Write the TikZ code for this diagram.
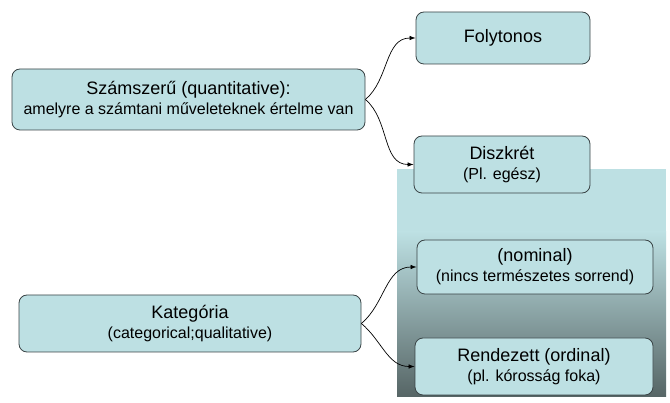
\documentclass[tikz,border=0pt]{standalone}
\usepackage{fontspec}
\setmainfont{Liberation Sans}
\usepackage{tikz}
\usetikzlibrary{arrows.meta}
\definecolor{boxfill}{HTML}{BDE0E3}
\definecolor{boxline}{HTML}{3A4446}
\definecolor{shadedark}{HTML}{566565}
\newcommand{\subline}[1]{{\fontsize{16}{19}\selectfont #1}}

\begin{document}
\begin{tikzpicture}[x=1pt, y=-1pt,
        box/.style={draw=boxline, fill=boxfill, rounded corners=8pt, line width=0.8pt,
                    align=center, inner sep=0pt, font=\fontsize{18}{20}\selectfont},
        link/.style={-{Latex[length=6pt,width=4.5pt]}, line width=0.7pt}]
    \useasboundingbox (0,0) rectangle (670,403);

    %shaded background
    \fill[boxfill] (397,169) rectangle (666,233);
    \shade[top color=boxfill, bottom color=shadedark] (397,232) rectangle (666,397);

    %boxes
    \node[box, minimum width=353pt, minimum height=61pt] (quant) at (188.5,99.5)
        {Számszerű (quantitative):\\\subline{amelyre a számtani műveleteknek értelme van}};
    \node[box, minimum width=174pt, minimum height=52pt] (folyt) at (503,38) {Folytonos};
    \node[box, minimum width=176pt, minimum height=57pt] (diszk) at (502,164.5)
        {Diszkrét\\\subline{(Pl. egész)}};
    \node[box, minimum width=342pt, minimum height=57pt] (kateg) at (190,323.5)
        {Kategória\\\subline{(categorical;qualitative)}};
    \node[box, minimum width=236pt, minimum height=54pt] (nomin) at (535,267)
        {(nominal)\\\subline{(nincs természetes sorrend)}};
    \node[box, minimum width=238pt, minimum height=57pt] (rend) at (534,366.5)
        {Rendezett (ordinal)\\\subline{(pl. kórosság foka)}};

    %arrows
    \draw[link] (quant.east) to[out=40, in=180] (folyt.west);
    \draw[link] (quant.east) to[out=-40, in=180] (diszk.west);
    \draw[link] (kateg.east) to[out=40, in=180] (nomin.west);
    \draw[link] (kateg.east) to[out=-40, in=180] (rend.west);
\end{tikzpicture}
\end{document}
